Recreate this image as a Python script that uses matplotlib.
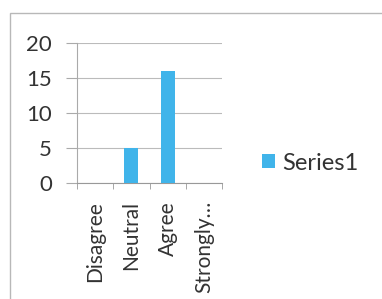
import matplotlib
matplotlib.use("Agg")
import matplotlib.pyplot as plt
from matplotlib.patches import Rectangle

categories = ["Disagree", "Neutral", "Agree", "Strongly…"]
values = [0, 5, 16, 0]
series_name = "Series1"
yticks = [0, 5, 10, 15, 20]

plt.rcParams['font.family'] = ['Lato', 'DejaVu Sans']

fig = plt.figure(figsize=(3.82, 2.99), dpi=100)
fig.patch.set_facecolor('white')

# outer chart frame
fig.add_artist(Rectangle((10/382, -0.1), 1.2, 1 - 13/299 + 0.1, transform=fig.transFigure,
                         fill=False, edgecolor='#b8b8b8', lw=1.0))

ax = fig.add_axes([77/382, 1 - 183/299, 145/382, 140/299])
x = range(len(categories))
bars = ax.bar(x, values, width=0.39, color='#40b4ea', label=series_name, zorder=3)

ax.set_xlim(-0.5, len(categories) - 0.5)
ax.set_ylim(0, 20)
ax.set_yticks(yticks)
ax.set_yticklabels([str(t) for t in yticks], fontsize=16, color='#333333')
ax.set_xticks(list(x))
ax.set_xticklabels(categories, rotation=90, fontsize=15, color='#333333')
ax.set_xticks([i - 0.5 for i in range(len(categories) + 1)], minor=True)
ax.tick_params(axis='x', which='major', length=0, pad=13)
ax.tick_params(axis='x', which='minor', length=4, color='#999999', direction='out')
ax.tick_params(axis='y', length=8, color='#aaaaaa', pad=10)
ax.grid(axis='y', color='#bbbbbb', lw=0.8, zorder=0)
for s in ['top', 'right']:
    ax.spines[s].set_visible(False)
ax.spines['left'].set_color('#aaaaaa')
ax.spines['bottom'].set_color('#999999')

fig.legend(handles=[bars], labels=[series_name], loc='center left',
           bbox_to_anchor=(262/382, 1 - 163/299), frameon=False, fontsize=17,
           borderpad=0, borderaxespad=0,
           handlelength=0.55, handleheight=0.55, handletextpad=0.3,
           labelcolor='#333333')

fig.savefig("out.png", dpi=100)
